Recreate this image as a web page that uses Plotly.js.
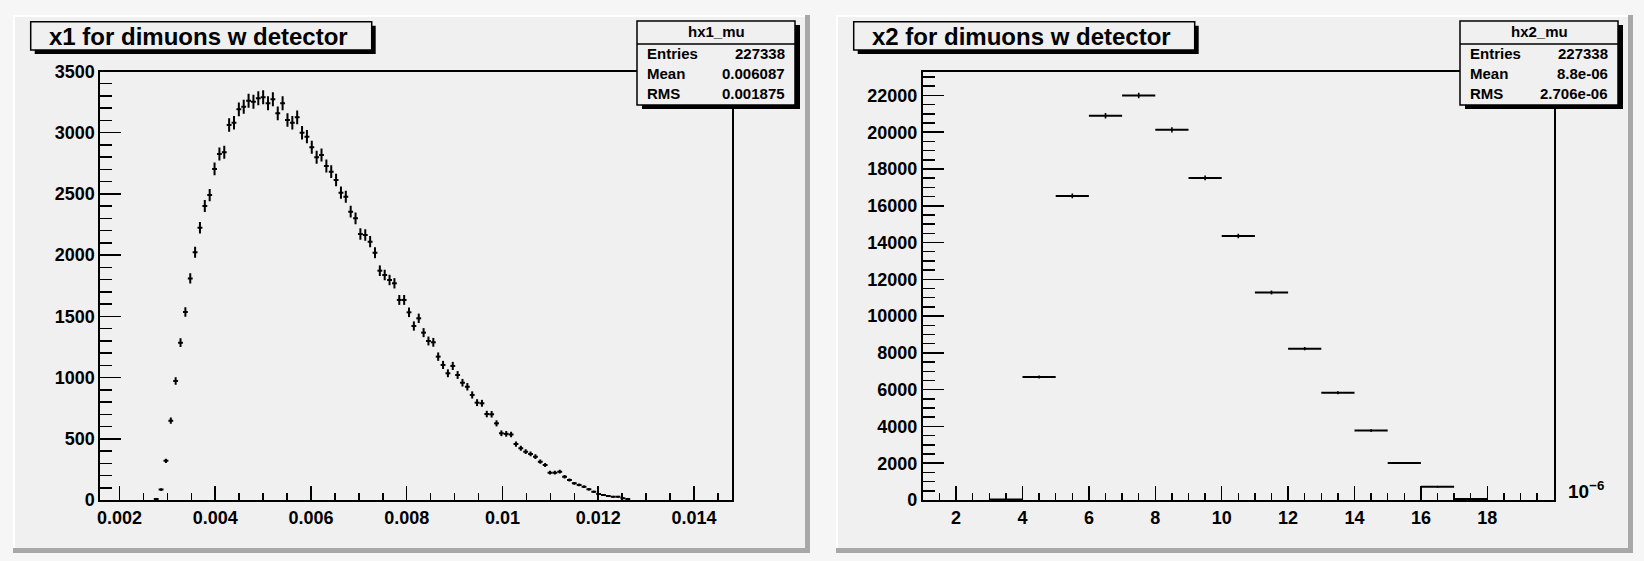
<!DOCTYPE html>
<html>
<head>
<meta charset="utf-8">
<script src="https://cdn.plot.ly/plotly-3.0.1.min.js"></script>
<style>
  html, body { margin: 0; padding: 0; background: #f6f6f6; }
  #c { width: 1644px; height: 561px; }
</style>
</head>
<body>
<div id="c"></div>
<script>
// ---- hx1_mu : x1 of dimuon events, 130 bins on [0.0016, 0.0148] ----
const x1Min = 0.0016;
const x1Max = 0.0148;
const x1NBins = 130;
const x1FirstBin = 11;              // index of the first non-empty bin
const x1Counts = [
  8, 85, 320, 648, 972, 1285, 1536, 1810, 2023, 2224,
  2401, 2491, 2704, 2826, 2840, 3063, 3082, 3191, 3212, 3261,
  3253, 3281, 3289, 3240, 3273, 3158, 3240, 3104, 3082, 3126,
  3000, 2968, 2881, 2799, 2818, 2728, 2682, 2614, 2510, 2477,
  2355, 2301, 2173, 2165, 2110, 2020, 1873, 1838, 1797, 1770,
  1634, 1634, 1533, 1421, 1484, 1367, 1299, 1288, 1171, 1103,
  1035, 1095, 1021, 958, 925, 858, 795, 790, 702, 700,
  626, 545, 540, 535, 457, 422, 395, 376, 354, 313,
  286, 223, 223, 231, 190, 163, 136, 123, 109, 87,
  68, 49, 41, 33, 27, 27, 14, 8
];

// ---- hx2_mu : x2 in units of 1e-6, unit-wide bins ----
const x2BinLow = [3, 4, 5, 6, 7, 8, 9, 10, 11, 12, 13, 14, 15, 16, 17];
const x2Counts = [30, 6683, 16533, 20894, 22000, 20131, 17514, 14353, 11284, 8231, 5833, 3778, 2017, 725, 50];

// ---- axis ticks ----
const x1TickVals = [0.002, 0.004, 0.006, 0.008, 0.010, 0.012, 0.014];
const x1TickText = ['0.002', '0.004', '0.006', '0.008', '0.01', '0.012', '0.014'];
const y1TickVals = [0, 500, 1000, 1500, 2000, 2500, 3000, 3500];
const x2TickVals = [2, 4, 6, 8, 10, 12, 14, 16, 18];
const y2TickVals = [0, 2000, 4000, 6000, 8000, 10000, 12000, 14000, 16000, 18000, 20000, 22000];

// ---- titles and statistics boxes ----
const padTitles = ['x1 for dimuons w detector', 'x2 for dimuons w detector'];
const statNames = ['hx1_mu', 'hx2_mu'];
const statLabels = ['Entries', 'Mean', 'RMS'];
const stats1Values = ['227338', '0.006087', '0.001875'];
const stats2Values = ['227338', '8.8e-06', '2.706e-06'];
const x2Exponent = '10<sup>\u22126</sup>';

// ---------------------------------------------------------------
const W = 1644, H = 561;
const px = x => x / W;
const py = y => 1 - y / H;

const FONT = 'Liberation Sans, Arial, Helvetica, sans-serif';
const INK = '#000000';
const PAD_BG = '#f0f0f0';

// histogram 1 bin centres from its binning
const x1Width = (x1Max - x1Min) / x1NBins;
const x1Centers = x1Counts.map((_, k) => x1Min + (x1FirstBin + k + 0.5) * x1Width);
const x1Errors = x1Counts.map(v => Math.sqrt(v));

const x2Centers = x2BinLow.map(v => v + 0.5);
const x2Errors = x2Counts.map(v => Math.sqrt(v));

const traces = [
  {
    type: 'scatter', mode: 'markers', xaxis: 'x', yaxis: 'y',
    x: x1Centers, y: x1Counts, cliponaxis: false,
    marker: { size: 2, color: INK },
    error_x: { type: 'constant', value: x1Width / 2, width: 0, thickness: 2, color: INK },
    error_y: { type: 'data', array: x1Errors, width: 0, thickness: 2, color: INK },
    hoverinfo: 'x+y', showlegend: false
  },
  {
    type: 'scatter', mode: 'markers', xaxis: 'x2', yaxis: 'y2',
    x: x2Centers, y: x2Counts, cliponaxis: false,
    marker: { size: 2, color: INK },
    error_x: { type: 'constant', value: 0.5, width: 0, thickness: 2, color: INK },
    error_y: { type: 'data', array: x2Errors, width: 0, thickness: 1.6, color: INK },
    hoverinfo: 'x+y', showlegend: false
  }
];

const tickFont = { family: FONT, size: 18, color: INK, weight: 'bold' };

function axisCommon(extra) {
  return Object.assign({
    showline: true, mirror: true, linecolor: INK, linewidth: 2,
    showgrid: false, zeroline: false,
    ticks: 'inside', tickcolor: INK, tickwidth: 1.5,
    tickfont: tickFont, fixedrange: true
  }, extra);
}

const yDomain = [py(500), py(71.5)];

const layout = {
  width: W, height: H,
  margin: { l: 0, r: 0, t: 0, b: 0, pad: 0 },
  paper_bgcolor: '#f6f6f6',
  plot_bgcolor: PAD_BG,
  showlegend: false,
  xaxis: axisCommon({
    domain: [px(100.3), px(732.3)], range: [x1Min, x1Max], anchor: 'y',
    tickmode: 'array', tickvals: x1TickVals, ticktext: x1TickText, ticklen: 14,
    minor: { dtick: 0.0005, tick0: 0, ticks: 'inside', ticklen: 7, tickwidth: 1.5, tickcolor: INK, showgrid: false }
  }),
  yaxis: axisCommon({
    domain: yDomain, range: [0, 3500], anchor: 'x',
    tickmode: 'array', tickvals: y1TickVals, ticktext: y1TickVals.map(String), ticklen: 21,
    minor: { dtick: 100, tick0: 0, ticks: 'inside', ticklen: 12, tickwidth: 1.5, tickcolor: INK, showgrid: false }
  }),
  xaxis2: axisCommon({
    domain: [px(922.9), px(1553.7)], range: [1, 20], anchor: 'y2',
    tickmode: 'array', tickvals: x2TickVals, ticktext: x2TickVals.map(String), ticklen: 14,
    minor: { dtick: 0.5, tick0: 0, ticks: 'inside', ticklen: 7, tickwidth: 1.5, tickcolor: INK, showgrid: false }
  }),
  yaxis2: axisCommon({
    domain: yDomain, range: [0, 23300], anchor: 'x2',
    tickmode: 'array', tickvals: y2TickVals, ticktext: y2TickVals.map(String), ticklen: 21,
    minor: { dtick: 500, tick0: 0, ticks: 'inside', ticklen: 12, tickwidth: 1.5, tickcolor: INK, showgrid: false }
  }),
  shapes: [],
  annotations: []
};

function rect(x0, y0, x1, y1, fill, line, layer) {
  return {
    type: 'rect', xref: 'paper', yref: 'paper',
    x0: px(x0), x1: px(x1), y0: py(y1), y1: py(y0),
    fillcolor: fill, line: line || { width: 0 }, layer: layer || 'below'
  };
}
function hline(x0, x1, y, layer) {
  return {
    type: 'line', xref: 'paper', yref: 'paper',
    x0: px(x0), x1: px(x1), y0: py(y), y1: py(y),
    line: { color: INK, width: 1.5 }, layer: layer || 'above'
  };
}
function text(str, x, y, size, xanchor) {
  return {
    xref: 'paper', yref: 'paper', x: px(x), y: py(y),
    text: str, showarrow: false, xanchor: xanchor || 'center', yanchor: 'middle',
    font: { family: FONT, size: size, color: INK, weight: 'bold' }
  };
}

// two pads with raised bevel
const pads = [[13, 15, 810, 553], [836, 15, 1633, 553]];
pads.forEach(([x0, y0, x1, y1]) => {
  layout.shapes.push(rect(x0, y0, x1, y1, '#a8a8a8'));
  layout.shapes.push(rect(x0, y0, x1 - 5, y1 - 5, '#ffffff'));
  layout.shapes.push(rect(x0 + 2, y0 + 2, x1 - 5, y1 - 5, PAD_BG));
});

// pad titles (boxed, with shadow)
[0, 1].forEach(i => {
  const dx = i * 823;
  const bx0 = 30.7 + dx, bx1 = 371.7 + dx, by0 = 21.7, by1 = 50;
  layout.shapes.push(rect(bx0 + 4, by0 + 4, bx1 + 4, by1 + 4, INK, null, 'above'));
  layout.shapes.push(rect(bx0, by0, bx1, by1, PAD_BG, { color: INK, width: 1.5 }, 'above'));
  layout.annotations.push(text(padTitles[i], (bx0 + bx1) / 2 - 3, 36.5, 24));
});

// statistics boxes
[[0, stats1Values], [1, stats2Values]].forEach(([i, vals]) => {
  const dx = i * 823;
  const sx0 = 637 + dx, sx1 = 795 + dx, sy0 = 21, sy1 = 105;
  layout.shapes.push(rect(sx0 + 5, sy0 + 4, sx1 + 5, sy1 + 4, INK, null, 'above'));
  layout.shapes.push(rect(sx0, sy0, sx1, sy1, PAD_BG, { color: INK, width: 1.5 }, 'above'));
  layout.shapes.push(hline(sx0, sx1, 44));
  layout.annotations.push(text(statNames[i], (sx0 + sx1) / 2, 31, 15));
  statLabels.forEach((lab, r) => {
    const y = 53.5 + r * 20;
    layout.annotations.push(text(lab, sx0 + 8, y, 15, 'left'));
    layout.annotations.push(text(vals[r], sx1 - 8, y, 15, 'right'));
  });
});

// axis multiplier of the x2 axis
layout.annotations.push(text(x2Exponent, 1566, 490, 19, 'left'));

Plotly.newPlot('c', traces, layout, { staticPlot: true, displayModeBar: false });
</script>
</body>
</html>
